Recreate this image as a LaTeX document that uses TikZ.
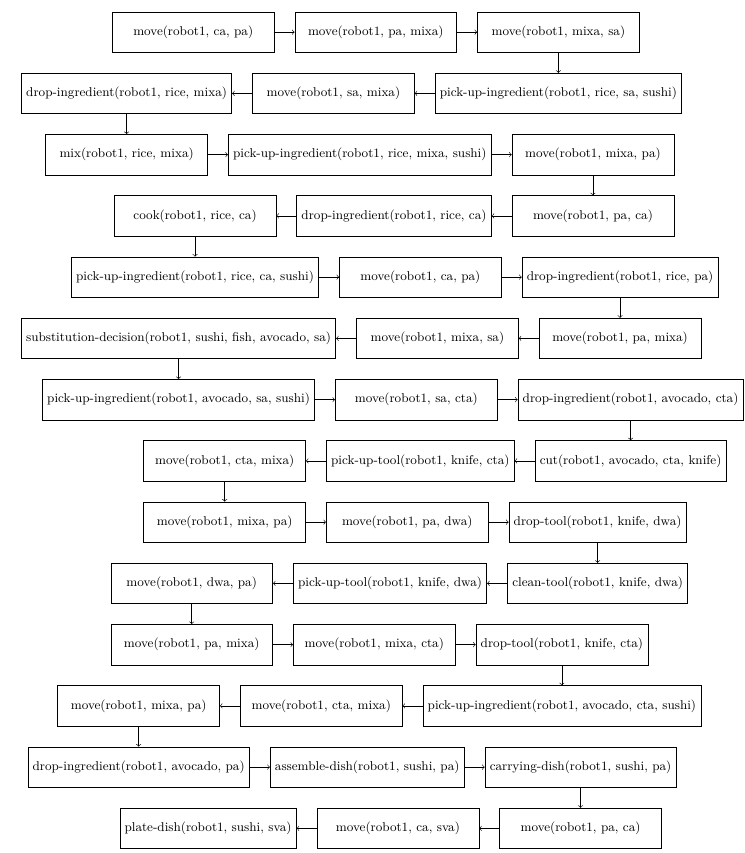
\documentclass[tikz,border=0pt]{standalone}
\usetikzlibrary{positioning}
\begin{document}
\begin{tikzpicture}[node distance=0.5cm,
  act/.style={draw, minimum width=4cm, minimum height=1cm, font=\small},
  flow/.style={->}]
\useasboundingbox (0,0) rectangle (524pt,-600pt);
% row 1
\node[act, anchor=north west] (a1) at (78.8pt,-8.2pt) {move(robot1, ca, pa)};
\node[act, right=of a1] (a2) {move(robot1, pa, mixa)};
\node[act, right=of a2] (a3) {move(robot1, mixa, sa)};
% row 2
\node[act, below=of a3] (b1) {pick-up-ingredient(robot1, rice, sa, sushi)};
\node[act, left=of b1] (b2) {move(robot1, sa, mixa)};
\node[act, left=of b2] (b3) {drop-ingredient(robot1, rice, mixa)};
% row 3
\node[act, below=of b3] (c1) {mix(robot1, rice, mixa)};
\node[act, right=of c1] (c2) {pick-up-ingredient(robot1, rice, mixa, sushi)};
\node[act, right=of c2] (c3) {move(robot1, mixa, pa)};
% row 4
\node[act, below=of c3] (d1) {move(robot1, pa, ca)};
\node[act, left=of d1] (d2) {drop-ingredient(robot1, rice, ca)};
\node[act, left=of d2] (d3) {cook(robot1, rice, ca)};
% row 5
\node[act, below=of d3] (e1) {pick-up-ingredient(robot1, rice, ca, sushi)};
\node[act, right=of e1] (e2) {move(robot1, ca, pa)};
\node[act, right=of e2] (e3) {drop-ingredient(robot1, rice, pa)};
% row 6
\node[act, below=of e3] (f1) {move(robot1, pa, mixa)};
\node[act, left=of f1] (f2) {move(robot1, mixa, sa)};
\node[act, left=of f2] (f3) {substitution-decision(robot1, sushi, fish, avocado, sa)};
% row 7
\node[act, below=of f3] (g1) {pick-up-ingredient(robot1, avocado, sa, sushi)};
\node[act, right=of g1] (g2) {move(robot1, sa, cta)};
\node[act, right=of g2] (g3) {drop-ingredient(robot1, avocado, cta)};
% row 8
\node[act, below=of g3] (h1) {cut(robot1, avocado, cta, knife)};
\node[act, left=of h1] (h2) {pick-up-tool(robot1, knife, cta)};
\node[act, left=of h2] (h3) {move(robot1, cta, mixa)};
% row 9
\node[act, below=of h3] (i1) {move(robot1, mixa, pa)};
\node[act, right=of i1] (i2) {move(robot1, pa, dwa)};
\node[act, right=of i2] (i3) {drop-tool(robot1, knife, dwa)};
% row 10
\node[act, below=of i3] (j1) {clean-tool(robot1, knife, dwa)};
\node[act, left=of j1] (j2) {pick-up-tool(robot1, knife, dwa)};
\node[act, left=of j2] (j3) {move(robot1, dwa, pa)};
% row 11
\node[act, below=of j3] (k1) {move(robot1, pa, mixa)};
\node[act, right=of k1] (k2) {move(robot1, mixa, cta)};
\node[act, right=of k2] (k3) {drop-tool(robot1, knife, cta)};
% row 12
\node[act, below=of k3] (l1) {pick-up-ingredient(robot1, avocado, cta, sushi)};
\node[act, left=of l1] (l2) {move(robot1, cta, mixa)};
\node[act, left=of l2] (l3) {move(robot1, mixa, pa)};
% row 13
\node[act, below=of l3] (m1) {drop-ingredient(robot1, avocado, pa)};
\node[act, right=of m1] (m2) {assemble-dish(robot1, sushi, pa)};
\node[act, right=of m2] (m3) {carrying-dish(robot1, sushi, pa)};
% row 14
\node[act, below=of m3] (n1) {move(robot1, pa, ca)};
\node[act, left=of n1] (n2) {move(robot1, ca, sva)};
\node[act, left=of n2] (n3) {plate-dish(robot1, sushi, sva)};
% connectors within rows
\foreach \r in {a,b,c,d,e,f,g,h,i,j,k,l,m,n} {
  \draw[flow] (\r1) -- (\r2);
  \draw[flow] (\r2) -- (\r3);
}
% connectors between rows
\draw[flow] (a3) -- (b1);
\draw[flow] (b3) -- (c1);
\draw[flow] (c3) -- (d1);
\draw[flow] (d3) -- (e1);
\draw[flow] (e3) -- (f1);
\draw[flow] (f3) -- (g1);
\draw[flow] (g3) -- (h1);
\draw[flow] (h3) -- (i1);
\draw[flow] (i3) -- (j1);
\draw[flow] (j3) -- (k1);
\draw[flow] (k3) -- (l1);
\draw[flow] (l3) -- (m1);
\draw[flow] (m3) -- (n1);
\end{tikzpicture}
\end{document}
